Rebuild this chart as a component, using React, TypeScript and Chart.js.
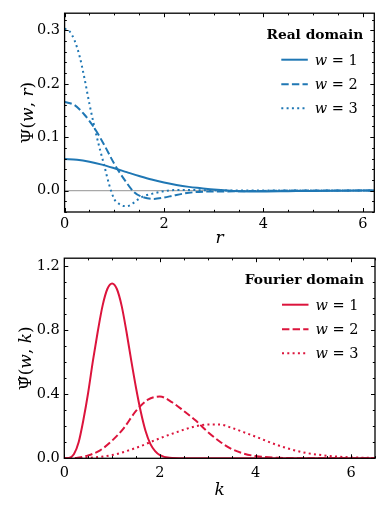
import { useEffect, useRef } from 'react';
import { Chart, registerables } from 'chart.js';

Chart.register(...registerables);

const FONT = '"DejaVu Serif", serif';
const BLUE = '#1f77b4';
const RED = '#dc143c';

// ---------- Real domain (top) ----------
const rX1 = [0, 0.25, 0.5, 0.75, 1, 1.25, 1.5, 1.75, 2, 2.25, 2.5, 2.75, 3, 3.5, 4, 4.5, 5, 5.5, 6, 6.25];
const realW1 = [0.059, 0.0578, 0.0542, 0.0487, 0.0419, 0.0346, 0.0274, 0.0207, 0.0151, 0.0105, 0.007, 0.0045, 0.002, -0.001, -0.0015, -0.001, -0.0005, -0.0002, 0, 0];

const rX2 = [0, 0.2, 0.4, 0.6, 0.8, 1.0, 1.2, 1.4, 1.6, 1.8, 2.0, 2.2, 2.5, 2.8, 3.2, 3.6, 4, 4.5, 5, 5.5, 6, 6.25];
const realW2 = [0.166, 0.16, 0.142, 0.117, 0.085, 0.05, 0.021, -0.003, -0.013, -0.0155, -0.013, -0.009, -0.004, -0.002, -0.0015, -0.001, -0.0005, 0, 0, 0, 0, 0];

const rX3 = [0, 0.1, 0.2, 0.3, 0.4, 0.5, 0.6, 0.7, 0.8, 0.9, 1.0, 1.1, 1.2, 1.3, 1.4, 1.5, 1.6, 1.8, 2.0, 2.2, 2.5, 3, 3.5, 4, 5, 6, 6.25];
const realW3 = [0.303, 0.298, 0.281, 0.252, 0.21, 0.162, 0.119, 0.081, 0.046, 0.01, -0.016, -0.025, -0.029, -0.028, -0.022, -0.015, -0.01, -0.005, -0.001, 0.001, 0.001, 0.0005, 0, 0, 0, 0, 0];

// ---------- Fourier domain (bottom) ----------
const kX1 = [0, 0.1, 0.2, 0.3, 0.4, 0.5, 0.6, 0.7, 0.8, 0.9, 1.0, 1.1, 1.2, 1.3, 1.4, 1.5, 1.6, 1.7, 1.8, 1.9, 2.0, 2.2, 2.5, 3, 4, 5, 6, 6.5];
const fourW1 = [0, 0.002, 0.025, 0.1, 0.24, 0.41, 0.61, 0.79, 0.95, 1.055, 1.09, 1.055, 0.95, 0.79, 0.61, 0.44, 0.29, 0.17, 0.09, 0.045, 0.02, 0.003, 0, 0, 0, 0, 0, 0];

const kX2 = [0, 0.25, 0.5, 0.75, 1, 1.25, 1.5, 1.75, 2, 2.25, 2.5, 2.75, 3, 3.25, 3.5, 3.75, 4, 4.5, 5, 5.5, 6, 6.5];
const fourW2 = [0, 0.002, 0.018, 0.05, 0.11, 0.19, 0.295, 0.365, 0.385, 0.35, 0.295, 0.235, 0.165, 0.105, 0.058, 0.03, 0.014, 0.003, 0.0005, 0, 0, 0];

const kX3 = [0, 0.5, 1, 1.5, 2, 2.5, 2.75, 3, 3.25, 3.5, 3.75, 4, 4.5, 5, 5.5, 6, 6.5];
const fourW3 = [0, 0.003, 0.02, 0.065, 0.125, 0.178, 0.2, 0.211, 0.211, 0.19, 0.163, 0.135, 0.078, 0.037, 0.016, 0.006, 0.002];

const wLabels = ['1', '2', '3'];
const DASHES = [[], [7.4, 3.2], [2, 3.3]];

type Part = [string, string];

function font(style: string, size: number) {
  return `${style} ${size}px ${FONT}`;
}

function drawParts(ctx: CanvasRenderingContext2D, parts: Part[], size: number, x: number, y: number, align: 'left' | 'center') {
  let total = 0;
  const widths = parts.map(([t, s]) => {
    ctx.font = font(s, size);
    const w = ctx.measureText(t).width;
    total += w;
    return w;
  });
  let cx = align === 'center' ? x - total / 2 : x;
  ctx.textAlign = 'left';
  parts.forEach(([t, s], i) => {
    ctx.font = font(s, size);
    ctx.fillText(t, cx, y);
    cx += widths[i];
  });
}

const sciPlugin = {
  id: 'sci',
  beforeDatasetsDraw(chart: any, _a: any, o: any) {
    if (!o.zeroLine) return;
    const { ctx, chartArea: ca, scales } = chart;
    const py = scales.y.getPixelForValue(0);
    ctx.save();
    ctx.strokeStyle = '#a8a8a8';
    ctx.lineWidth = 1.2;
    ctx.beginPath();
    ctx.moveTo(ca.left, py);
    ctx.lineTo(ca.right, py);
    ctx.stroke();
    ctx.restore();
  },
  afterDraw(chart: any, _a: any, o: any) {
    const { ctx, chartArea: ca, scales } = chart;
    const x = scales.x;
    const y = scales.y;
    ctx.save();
    ctx.strokeStyle = '#000';
    ctx.lineWidth = 1;
    ctx.setLineDash([]);
    ctx.beginPath();
    const xTick = (v: number, len: number) => {
      const px = Math.round(x.getPixelForValue(v)) + 0.5;
      ctx.moveTo(px, ca.bottom);
      ctx.lineTo(px, ca.bottom - len);
      ctx.moveTo(px, ca.top);
      ctx.lineTo(px, ca.top + len);
    };
    const yTick = (v: number, len: number) => {
      const py = Math.round(y.getPixelForValue(v)) + 0.5;
      ctx.moveTo(ca.left, py);
      ctx.lineTo(ca.left + len, py);
      ctx.moveTo(ca.right, py);
      ctx.lineTo(ca.right - len, py);
    };
    const minors = (sc: any, step: number) => {
      const out: number[] = [];
      const n0 = Math.ceil(sc.min / step - 1e-9);
      const n1 = Math.floor(sc.max / step + 1e-9);
      for (let n = n0; n <= n1; n++) out.push(n * step);
      return out;
    };
    minors(x, o.xMinor).forEach((v) => xTick(v, 2.2));
    minors(y, o.yMinor).forEach((v) => yTick(v, 2.2));
    x.ticks.forEach((t: any) => xTick(t.value, 4));
    y.ticks.forEach((t: any) => yTick(t.value, 4));
    ctx.stroke();
    ctx.lineWidth = 1.3;
    ctx.strokeRect(ca.left, ca.top, ca.right - ca.left, ca.bottom - ca.top);

    ctx.fillStyle = '#000';
    // x title
    ctx.textBaseline = 'alphabetic';
    drawParts(ctx, [[o.xTitle, 'italic']], 17, (ca.left + ca.right) / 2, ca.bottom + o.xTitleOffset, 'center');
    // y title
    ctx.save();
    ctx.translate(o.yTitleX, (ca.top + ca.bottom) / 2);
    ctx.rotate(-Math.PI / 2);
    ctx.textBaseline = 'middle';
    drawParts(ctx, o.yTitle, 17, 0, 0, 'center');
    ctx.restore();

    // legend
    ctx.textBaseline = 'middle';
    ctx.font = font('bold', 13.8);
    ctx.textAlign = 'right';
    ctx.fillText(o.legendTitle, ca.right - 11, ca.top + 22);
    const rows = [46.5, 71, 95];
    chart.data.datasets.forEach((ds: any, i: number) => {
      const ly = ca.top + rows[i];
      ctx.save();
      ctx.strokeStyle = ds.borderColor;
      ctx.lineWidth = ds.borderWidth;
      ctx.setLineDash(ds.borderDash || []);
      ctx.beginPath();
      ctx.moveTo(ca.right - 93, ly);
      ctx.lineTo(ca.right - 66.5, ly);
      ctx.stroke();
      ctx.restore();
      ctx.fillStyle = '#000';
      ctx.textBaseline = 'middle';
      drawParts(ctx, [['w', 'italic'], [' = ' + wLabels[i], 'normal']], 14.5, ca.right - 59.5, ly + 1.5, 'left');
    });
    ctx.restore();
  },
};

function makeSeries(xs: number[][], ys: number[][], color: string) {
  return ys.map((vals, i) => ({
    label: 'w = ' + wLabels[i],
    data: xs[i].map((xv, j) => ({ x: xv, y: vals[j] })),
    borderColor: color,
    backgroundColor: color,
    borderWidth: 2,
    borderDash: DASHES[i],
    borderCapStyle: 'butt',
    pointRadius: 0,
    cubicInterpolationMode: 'monotone',
    fill: false,
  }));
}

interface PanelProps {
  height: number;
  datasets: any[];
  xMax: number;
  yMin: number;
  yMax: number;
  yStep: number;
  yMinor: number;
  padTop: number;
  padRight: number;
  yWidth: number;
  xHeight: number;
  xLabelPad: number;
  xTitle: string;
  xTitleOffset: number;
  yTitle: Part[];
  yTitleX: number;
  legendTitle: string;
  zeroLine: boolean;
}

function Panel(p: PanelProps) {
  const ref = useRef<HTMLCanvasElement | null>(null);
  useEffect(() => {
    if (!ref.current) return;
    const tickFont = { family: FONT, size: 14.5 };
    const chart = new Chart(ref.current, {
      type: 'line',
      data: { datasets: p.datasets },
      plugins: [sciPlugin],
      options: {
        animation: false,
        responsive: false,
        devicePixelRatio: 1,
        layout: { padding: { top: p.padTop, right: p.padRight, left: 0, bottom: 0 } },
        plugins: {
          legend: { display: false },
          tooltip: { enabled: false },
          sci: {
            xMinor: 0.5,
            yMinor: p.yMinor,
            zeroLine: p.zeroLine,
            xTitle: p.xTitle,
            xTitleOffset: p.xTitleOffset,
            yTitle: p.yTitle,
            yTitleX: p.yTitleX,
            legendTitle: p.legendTitle,
          },
        } as any,
        scales: {
          x: {
            type: 'linear',
            min: 0,
            max: p.xMax,
            grid: { display: false, drawTicks: false },
            border: { display: false },
            ticks: {
              stepSize: 2,
              includeBounds: false,
              font: tickFont,
              color: '#000',
              padding: p.xLabelPad,
              maxRotation: 0,
              callback: (v: any) => String(v),
            },
            afterFit: (s: any) => {
              s.height = p.xHeight;
            },
          },
          y: {
            type: 'linear',
            min: p.yMin,
            max: p.yMax,
            grid: { display: false, drawTicks: false },
            border: { display: false },
            ticks: {
              stepSize: p.yStep,
              includeBounds: false,
              font: tickFont,
              color: '#000',
              padding: 4.5,
              callback: (v: any) => Number(v).toFixed(1),
            },
            afterFit: (s: any) => {
              s.width = p.yWidth;
            },
          },
        },
      } as any,
    });
    return () => chart.destroy();
  }, []);
  return <canvas ref={ref} width={382} height={p.height} style={{ display: 'block', width: 382, height: p.height }} />;
}

export default function App() {
  useEffect(() => {
    document.body.style.margin = '0';
    document.body.style.background = '#fff';
  }, []);
  const realSets = makeSeries([rX1, rX2, rX3], [realW1, realW2, realW3], BLUE);
  const fourSets = makeSeries([kX1, kX2, kX3], [fourW1, fourW2, fourW3], RED);
  return (
    <div style={{ width: 382, height: 506, background: '#fff' }}>
      <Panel
        height={245}
        datasets={realSets}
        xMax={6.23}
        yMin={-0.04}
        yMax={0.332}
        yStep={0.1}
        yMinor={0.02}
        padTop={6.7}
        padRight={7.7}
        yWidth={64.6}
        xHeight={33}
        xLabelPad={4}
        xTitle="r"
        xTitleOffset={31}
        yTitle={[['Ψ', 'normal'], ['(', 'normal'], ['w', 'italic'], [', ', 'normal'], ['r', 'italic'], [')', 'normal']]}
        yTitleX={29}
        legendTitle="Real domain"
        zeroLine={true}
      />
      <Panel
        height={261}
        datasets={fourSets}
        xMax={6.5}
        yMin={0}
        yMax={1.247}
        yStep={0.4}
        yMinor={0.1}
        padTop={8.3}
        padRight={7}
        yWidth={64.3}
        xHeight={47.7}
        xLabelPad={6}
        xTitle="k"
        xTitleOffset={36.5}
        yTitle={[['Ψ\u0302', 'normal'], ['(', 'normal'], ['w', 'italic'], [', ', 'normal'], ['k', 'italic'], [')', 'normal']]}
        yTitleX={27}
        legendTitle="Fourier domain"
        zeroLine={false}
      />
    </div>
  );
}
